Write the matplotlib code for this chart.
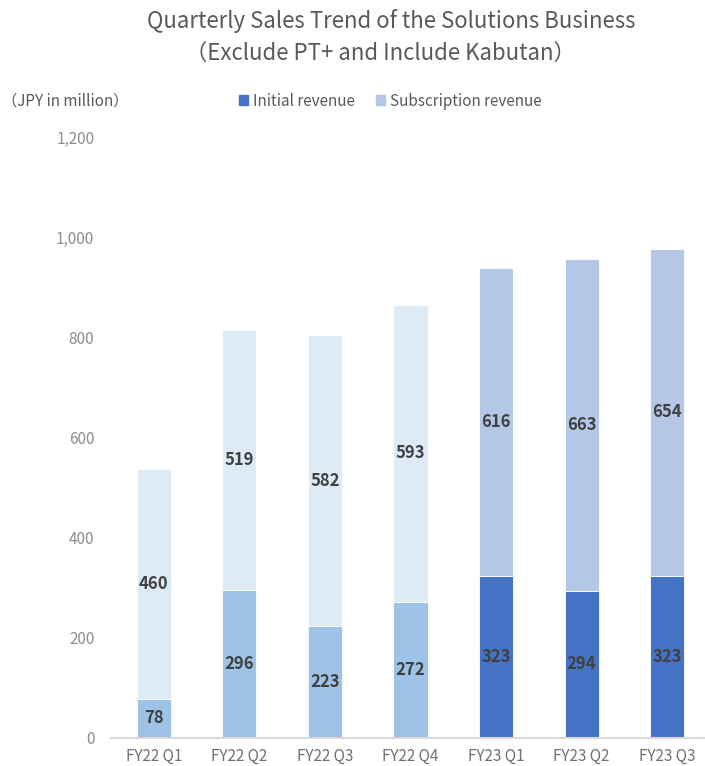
import matplotlib.pyplot as plt
from matplotlib.patches import Patch

plt.rcParams['font.family'] = ['Noto Sans CJK JP', 'DejaVu Sans']

# 数据
quarters = ['FY22 Q1', 'FY22 Q2', 'FY22 Q3', 'FY22 Q4', 'FY23 Q1', 'FY23 Q2', 'FY23 Q3']
initial_revenue = [78, 296, 223, 272, 323, 294, 323]
subscription_revenue = [460, 519, 582, 593, 616, 663, 654]
y_ticks = [0, 200, 400, 600, 800, 1000, 1200]

# FY22 用浅色，FY23 用深色
initial_colors = ['#9DC3E6'] * 4 + ['#4472C4'] * 3
subscription_colors = ['#DEEBF7'] * 4 + ['#B4C7E7'] * 3

fig = plt.figure(figsize=(7.05, 7.66), dpi=100)
ax = fig.add_axes([111 / 705, 28 / 766, 599 / 705, 601 / 766])

x = list(range(len(quarters)))
ax.bar(x, initial_revenue, width=0.4, color=initial_colors,
       edgecolor='white', linewidth=0.6)
ax.bar(x, subscription_revenue, width=0.4, bottom=initial_revenue,
       color=subscription_colors, edgecolor='white', linewidth=0.6)

# 数据标签
for i in x:
    ax.text(i, initial_revenue[i] / 2, str(initial_revenue[i]), ha='center', va='center',
            fontsize=12, fontweight='bold', color='#404040')
    ax.text(i, initial_revenue[i] + subscription_revenue[i] / 2, str(subscription_revenue[i]),
            ha='center', va='center', fontsize=12, fontweight='bold', color='#404040')

ax.set_xlim(-0.5, 6.5)
ax.set_ylim(0, 1200)
ax.set_yticks(y_ticks)
ax.set_yticklabels([f'{v:,}' for v in y_ticks])
ax.set_xticks(x)
ax.set_xticklabels(quarters)
ax.tick_params(axis='y', length=0, pad=12, labelsize=11, labelcolor='#8C8C8C')
ax.tick_params(axis='x', length=0, pad=7, labelsize=11, labelcolor='#707070')

for side in ['top', 'right', 'left']:
    ax.spines[side].set_visible(False)
ax.spines['bottom'].set_color('#D9D9D9')
ax.spines['bottom'].set_linewidth(1.5)

# 标题
fig.text(391 / 705, 1 - 21 / 766, 'Quarterly Sales Trend of the Solutions Business',
         ha='center', va='center', fontsize=16, color='#595959')
fig.text(380 / 705, 1 - 53 / 766, '（Exclude PT+ and Include Kabutan）',
         ha='center', va='center', fontsize=16, color='#595959')

fig.text(2 / 705, 1 - 101 / 766, '（JPY in million）', ha='left', va='center',
         fontsize=11, color='#595959')

# 图例
handles = [Patch(color='#4472C4', label='Initial revenue'),
           Patch(color='#B4C7E7', label='Subscription revenue')]
fig.legend(handles=handles, loc='center', bbox_to_anchor=(390 / 705, 1 - 101 / 766),
           ncol=2, frameon=False, fontsize=11, handlelength=0.6, handleheight=0.6,
           handletextpad=0.3, columnspacing=1.4, labelcolor='#595959')

fig.savefig('out.png', dpi=100)
